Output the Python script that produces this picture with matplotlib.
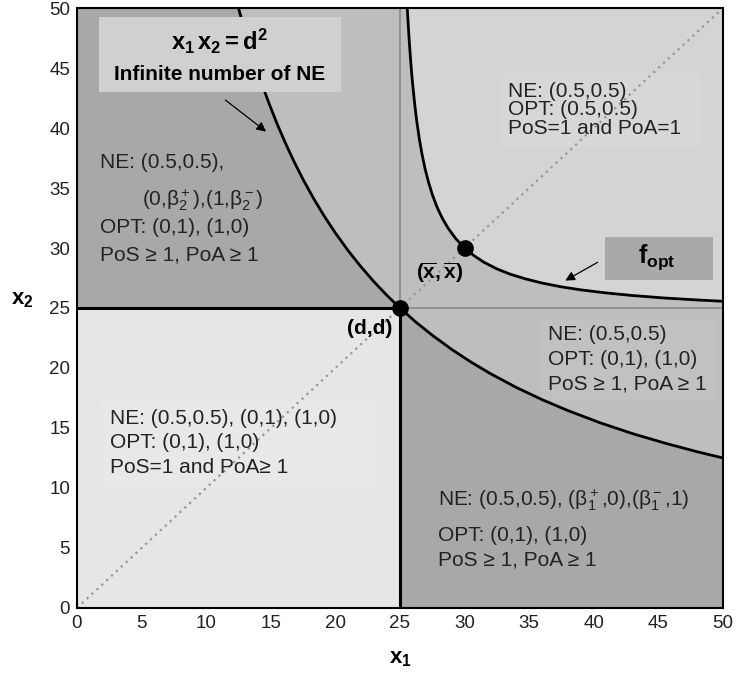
import matplotlib
matplotlib.use('Agg')
import matplotlib.pyplot as plt
from matplotlib.patches import Rectangle

plt.rcParams['font.family'] = ['Liberation Sans', 'DejaVu Sans']
plt.rcParams['mathtext.fontset'] = 'custom'
plt.rcParams['mathtext.rm'] = 'Liberation Sans'
plt.rcParams['mathtext.it'] = 'Liberation Sans:italic'
plt.rcParams['mathtext.bf'] = 'Liberation Sans:bold'

# threshold d (x1 = x2 = d)
d = 25
# hyperbola x1 x2 = d^2
hyp_x = [12.5, 12.8, 13.1, 13.5, 13.9, 14.4, 14.9, 15.5, 16.1, 16.8, 17.5,
         18.3, 19.1, 20, 21, 22, 23, 24, 25, 26.2, 27.5, 29, 30.5, 32, 34,
         36, 38, 40.5, 43, 45.5, 48, 50]
hyp_y = [50, 48.83, 47.71, 46.30, 44.96, 43.40, 41.95, 40.32, 38.82, 37.20,
         35.71, 34.15, 32.72, 31.25, 29.76, 28.41, 27.17, 26.04, 25, 23.85,
         22.73, 21.55, 20.49, 19.53, 18.38, 17.36, 16.45, 15.43, 14.53,
         13.74, 13.02, 12.5]
# f_opt curve
fopt_x = [25.56, 25.62, 25.7, 25.8, 25.9, 26.0, 26.15, 26.3, 26.5, 26.7,
          26.95, 27.2, 27.5, 27.85, 28.25, 28.7, 29.3, 30, 30.7, 31.5, 32.5,
          33.5, 34.7, 36, 37.5, 39, 41, 43, 45.5, 48, 50]
fopt_y = [50, 48.92, 47.5, 45.97, 44.6, 43.42, 41.87, 40.55, 39.07, 37.84,
          36.56, 35.51, 34.46, 33.45, 32.53, 31.69, 30.8, 30.0, 29.38, 28.81,
          28.26, 27.83, 27.43, 27.08, 26.76, 26.51, 26.25, 26.04, 25.83,
          25.67, 25.56]
xbar = 30
ticks = [0, 5, 10, 15, 20, 25, 30, 35, 40, 45, 50]

c_dark = '#a8a8aa'
c_mid = '#bebec0'
c_light = '#d4d4d6'
c_pale = '#e6e6e8'
c_text = '#222222'

fig = plt.figure(figsize=(7.38, 6.73), dpi=100)
ax = fig.add_axes([0.1043, 0.0966, 0.8754, 0.8915])
ax.set_xlim(0, 50)
ax.set_ylim(0, 50)
ax.set_facecolor(c_mid)

# regions
ax.fill_between([0, d], 0, d, color=c_pale, lw=0)
k = hyp_x.index(d)
ax.fill_betweenx(hyp_y[:k + 1], 0, hyp_x[:k + 1], color=c_dark, lw=0)
ax.fill_between([0, hyp_x[0]], d, 50, color=c_dark, lw=0)
ax.fill_between(hyp_x[k:], 0, hyp_y[k:], color=c_dark, lw=0)
ax.fill_between(fopt_x, fopt_y, 50, color=c_light, lw=0)

# subtle text boxes
ax.add_patch(Rectangle((32.8, 38.4), 15.5, 6.2, color='#d7d7d9', lw=0))
ax.add_patch(Rectangle((36.0, 17.4), 13.3, 6.7, color='#c1c1c3', lw=0))
ax.add_patch(Rectangle((1.9, 10.1), 21.5, 7.0, color='#e8e8ea', lw=0))

# guide lines
ax.plot([0, 50], [0, 50], color='#969698', ls=(0, (1, 2)), lw=1.6)
ax.plot([d, d], [d, 50], color='#88888a', lw=1.2)
ax.plot([d, 50], [d, d], color='#88888a', lw=1.2)
ax.plot([0, d], [d, d], color='black', lw=2.2)
ax.plot([d, d], [0, d], color='black', lw=2.2)

# curves
ax.plot(hyp_x, hyp_y, color='black', lw=2.0, solid_joinstyle='round')
ax.plot(fopt_x, fopt_y, color='black', lw=2.0, solid_joinstyle='round')
ax.plot([d, xbar], [d, xbar], 'o', color='black', ms=11, zorder=5)

# annotation box for hyperbola
ax.add_patch(Rectangle((1.7, 43.0), 18.73, 6.25, color='#d0d0d2', lw=0, zorder=3))
ax.text(11.0, 47.2, r'$\mathbf{x_1\,x_2 = d^2}$', fontsize=17, ha='center', va='center', zorder=4)
ax.text(11.07, 44.45, 'Infinite number of NE', fontsize=15, fontweight='bold',
        ha='center', va='center', zorder=4)
ax.annotate('', xy=(14.81, 39.56), xytext=(11.32, 42.47),
            arrowprops=dict(arrowstyle='-|>', color='black', lw=0.9, mutation_scale=14))

# f_opt box
ax.add_patch(Rectangle((40.87, 27.33), 8.36, 3.59, color='#a9a9ab', lw=0, zorder=3))
ax.text(44.9, 29.25, r'$\mathbf{f_{opt}}$', fontsize=18, ha='center', va='center', zorder=4)
ax.annotate('', xy=(37.6, 27.17), xytext=(40.48, 28.92),
            arrowprops=dict(arrowstyle='-|>', color='black', lw=0.9, mutation_scale=14))

# point labels
ax.text(26.2, 27.9, r'$\mathbf{(\overline{x},\overline{x})}$', fontsize=15, ha='left', va='center')
ax.text(20.9, 23.33, '(d,d)', fontsize=15, fontweight='bold', ha='left', va='center')

fs = 15
# upper-left region
ax.text(1.78, 37.1, 'NE: (0.5,0.5),', fontsize=fs, color=c_text, va='center')
ax.text(5.03, 34.0, r'(0,$\mathrm{\beta}_2^+$),(1,$\mathrm{\beta}_2^-$)', fontsize=fs,
        color=c_text, va='center')
ax.text(1.78, 31.75, 'OPT: (0,1), (1,0)', fontsize=fs, color=c_text, va='center')
ax.text(1.78, 29.42, 'PoS \u2265 1, PoA \u2265 1', fontsize=fs, color=c_text, va='center')

# upper-right region
ax.text(33.36, 43.08, 'NE: (0.5,0.5)', fontsize=fs, color=c_text, va='center')
ax.text(33.36, 41.55, 'OPT: (0.5,0.5)', fontsize=fs, color=c_text, va='center')
ax.text(33.36, 40.0, 'PoS=1 and PoA=1', fontsize=fs, color=c_text, va='center')

# right-middle region
ax.text(36.46, 22.83, 'NE: (0.5,0.5)', fontsize=fs, color=c_text, va='center')
ax.text(36.46, 20.7, 'OPT: (0,1), (1,0)', fontsize=fs, color=c_text, va='center')
ax.text(36.46, 18.67, 'PoS \u2265 1, PoA \u2265 1', fontsize=fs, color=c_text, va='center')

# lower-left region
ax.text(2.55, 15.83, 'NE: (0.5,0.5), (0,1), (1,0)', fontsize=fs, color=c_text, va='center')
ax.text(2.55, 13.75, 'OPT: (0,1), (1,0)', fontsize=fs, color=c_text, va='center')
ax.text(2.55, 11.67, 'PoS=1 and PoA\u2265 1', fontsize=fs, color=c_text, va='center')

# lower-right region
ax.text(27.94, 9.0, r'NE: (0.5,0.5), ($\mathrm{\beta}_1^+$,0),($\mathrm{\beta}_1^-$,1)',
        fontsize=fs, color=c_text, va='center')
ax.text(27.94, 6.08, 'OPT: (0,1), (1,0)', fontsize=fs, color=c_text, va='center')
ax.text(27.94, 4.0, 'PoS \u2265 1, PoA \u2265 1', fontsize=fs, color=c_text, va='center')

ax.set_xticks(ticks)
ax.set_yticks(ticks)
ax.tick_params(length=0, labelsize=13.5, pad=5, colors=c_text)
for s in ax.spines.values():
    s.set_linewidth(1.5)
    s.set_zorder(6)

fig.text(0.542, 0.022, r'$\mathbf{x_1}$', fontsize=16, ha='center', va='center')
fig.text(0.03, 0.555, r'$\mathbf{x_2}$', fontsize=16, ha='center', va='center')

fig.savefig('out.png', dpi=100)
